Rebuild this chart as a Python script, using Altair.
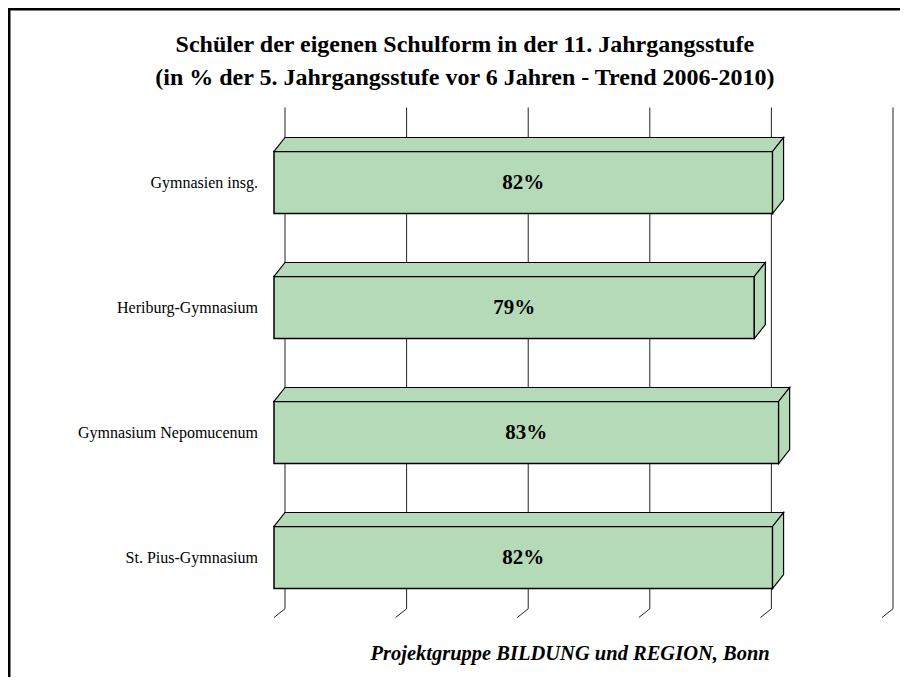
import altair as alt
import pandas as pd

categories = ["Gymnasien insg.", "Heriburg-Gymnasium", "Gymnasium Nepomucenum", "St. Pius-Gymnasium"]
values = [82, 79, 83, 82]
labels = ["82%", "79%", "83%", "82%"]
grid_ticks = [0, 20, 40, 60, 80, 100]

title_lines = ["Schüler der eigenen Schulform in der 11. Jahrgangsstufe",
               "(in % der 5. Jahrgangsstufe vor 6 Jahren  - Trend 2006-2010)"]
source_text = "Projektgruppe BILDUNG und REGION, Bonn"

# depth of the pseudo-3D effect (x in %, y in band units)
DX = 1.81
DY = 0.112
PAD = 0.252  # band padding on each side of a bar

FONT = "Liberation Serif"
FILL = "#B4DAB8"

bars = pd.DataFrame({
    "name": categories,
    "v": values,
    "label": labels,
    "idx": range(len(categories)),
})
bars["top"] = bars["idx"] + PAD
bars["bot"] = bars["idx"] + 1 - PAD
bars["mid"] = bars["idx"] + 0.5
bars["zero"] = 0

top_rows = []
side_rows = []
for name, v, t, b in zip(bars["name"], bars["v"], bars["top"], bars["bot"]):
    top_rows.append({"name": name, "y": t - DY, "x": DX, "x2": v + DX})
    top_rows.append({"name": name, "y": t, "x": 0, "x2": v})
    side_rows.append({"name": name, "x": v, "y": t, "y2": b})
    side_rows.append({"name": name, "x": v + DX, "y": t - DY, "y2": b - DY})
top_df = pd.DataFrame(top_rows)
side_df = pd.DataFrame(side_rows)

grid_df = pd.DataFrame({"t": grid_ticks})
grid_df["tb"] = grid_df["t"] + DX
grid_df["y1"] = -0.1
grid_df["y2"] = 3.91
grid_df["y3"] = 3.98

title_df = pd.DataFrame({"s": title_lines, "x": [31.4, 31.4], "y": [-0.6, -0.335]})
src_df = pd.DataFrame({"s": [source_text], "x": [48.7], "y": [4.27]})

xs = alt.Scale(domain=[0, 100], nice=False, zero=False)
ys = alt.Scale(domain=[0, 4], nice=False, zero=False, reverse=True)

grid = alt.Chart(grid_df).mark_rule(color="#222222", strokeWidth=1).encode(
    x=alt.X("tb:Q", scale=xs, axis=None),
    y=alt.Y("y1:Q", scale=ys, axis=None),
    y2="y2:Q",
)
floor_ticks = alt.Chart(grid_df).mark_rule(color="#222222", strokeWidth=1).encode(
    x=alt.X("tb:Q", scale=xs, axis=None),
    x2="t:Q",
    y=alt.Y("y2:Q", scale=ys, axis=None),
    y2="y3:Q",
)

front = alt.Chart(bars).mark_rect(fill=FILL, stroke="black", strokeWidth=1.5).encode(
    x=alt.X("zero:Q", scale=xs, axis=None),
    x2="v:Q",
    y=alt.Y("top:Q", scale=ys, axis=None),
    y2="bot:Q",
)
topface = alt.Chart(top_df).mark_area(orient="horizontal", fill=FILL, stroke="black",
                                      strokeWidth=1.2, interpolate="linear").encode(
    y=alt.Y("y:Q", scale=ys, axis=None),
    x=alt.X("x:Q", scale=xs, axis=None),
    x2="x2:Q",
    detail="name:N",
)
sideface = alt.Chart(side_df).mark_area(orient="vertical", fill=FILL, stroke="black",
                                        strokeWidth=1.2, interpolate="linear").encode(
    x=alt.X("x:Q", scale=xs, axis=None),
    y=alt.Y("y:Q", scale=ys, axis=None),
    y2="y2:Q",
    detail="name:N",
)
value_text = alt.Chart(bars).transform_calculate(h="datum.v / 2").mark_text(
    font=FONT, fontSize=21, fontWeight="bold", color="black", baseline="middle"
).encode(
    x=alt.X("h:Q", scale=xs, axis=None),
    y=alt.Y("mid:Q", scale=ys, axis=None),
    text="label:N",
)
cat_text = alt.Chart(bars).mark_text(
    font=FONT, fontSize=16, color="black", align="right", baseline="middle", dx=-16
).encode(
    x=alt.X("zero:Q", scale=xs, axis=None),
    y=alt.Y("mid:Q", scale=ys, axis=None),
    text="name:N",
)
title_text = alt.Chart(title_df).mark_text(
    font=FONT, fontSize=24, fontWeight="bold", color="black", baseline="middle"
).encode(
    x=alt.X("x:Q", scale=xs, axis=None),
    y=alt.Y("y:Q", scale=ys, axis=None),
    text="s:N",
)
src = alt.Chart(src_df).mark_text(
    font=FONT, fontSize=20.5, fontWeight="bold", fontStyle="italic", color="black",
    baseline="middle"
).encode(
    x=alt.X("x:Q", scale=xs, axis=None),
    y=alt.Y("y:Q", scale=ys, axis=None),
    text="s:N",
)
border_left = alt.Chart(pd.DataFrame({"a": [0]})).mark_rule(color="black", strokeWidth=3).encode(
    x=alt.value(-265), y=alt.value(-112), y2=alt.value(557)
)
border_top = alt.Chart(pd.DataFrame({"a": [0]})).mark_rule(color="black", strokeWidth=3).encode(
    x=alt.value(-266), x2=alt.value(626), y=alt.value(-111)
)

chart = alt.layer(
    border_left, border_top, grid, floor_ticks, front, topface, sideface,
    value_text, cat_text, title_text, src
).properties(
    width=608,
    height=500,
    padding={"left": 266, "right": 18, "top": 112, "bottom": 57},
    autosize=alt.AutoSizeParams(type="none"),
).configure(background="white").configure_view(strokeWidth=0)

chart.save("out.html", embed_options={"renderer": "svg", "actions": False})
